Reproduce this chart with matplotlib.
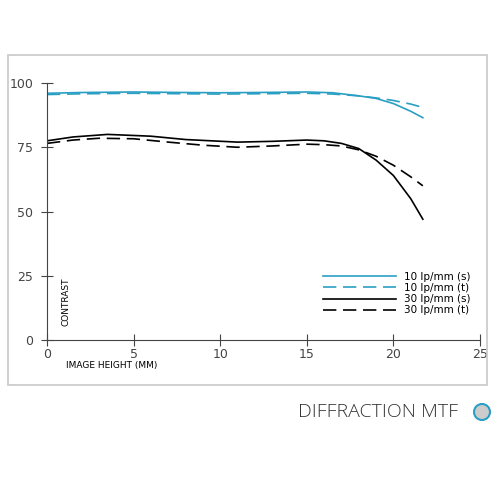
import matplotlib
matplotlib.use("Agg")
import matplotlib.pyplot as plt
from matplotlib.patches import Rectangle, Circle

x10s = [0, 2, 5, 8, 10, 12, 15, 16.5, 18, 19, 20, 21, 21.7]
y10s = [96, 96.3, 96.5, 96.3, 96.2, 96.3, 96.5, 96.2, 95, 94, 92, 89, 86.5]
x10t = [0, 2, 5, 8, 10, 12, 15, 16.5, 18, 19, 20, 21, 21.7]
y10t = [95.5, 95.8, 96, 95.8, 95.7, 95.8, 96, 95.7, 95, 94.2, 93.2, 91.8, 90.5]
x30s = [0, 1.5, 3.5, 6, 8, 11, 13, 15, 16, 17, 18, 19, 20, 21, 21.7]
y30s = [77.5, 79, 80, 79.3, 78, 77, 77.3, 77.8, 77.5, 76.5, 74.5, 70, 64, 55, 47]
x30t = [0, 1.5, 3, 5, 7, 9, 11, 13, 15, 16, 17, 18, 19, 20, 21, 21.7]
y30t = [76.5, 77.8, 78.5, 78.3, 77, 75.8, 75, 75.5, 76.2, 76, 75.5, 74, 71.5, 68, 63.5, 60]

blue = "#2a9fc4"
fig = plt.figure(figsize=(4.98, 4.98), dpi=100)
fig.patches.append(Rectangle((8/498, 1-385/498), 479/498, 330/498, transform=fig.transFigure,
                             fill=False, edgecolor="#c8c8c8", lw=1.2))
ax = fig.add_axes([47/498, 1-340/498, 433/498, 257/498])
ax.plot(x10s, y10s, color=blue, lw=1.2, label="10 lp/mm (s)")
ax.plot(x10t, y10t, color=blue, lw=1.2, ls=(0, (8, 4)), label="10 lp/mm (t)")
ax.plot(x30s, y30s, color="black", lw=1.2, label="30 lp/mm (s)")
ax.plot(x30t, y30t, color="black", lw=1.2, ls=(0, (8, 4)), label="30 lp/mm (t)")
ax.set_xlim(0, 25); ax.set_ylim(0, 100)
ax.set_xticks([0, 5, 10, 15, 20, 25]); ax.set_yticks([0, 25, 50, 75, 100])
for s in ["top", "right"]:
    ax.spines[s].set_visible(False)
for s in ["left", "bottom"]:
    ax.spines[s].set_color("#444444"); ax.spines[s].set_linewidth(0.8)
ax.tick_params(direction="inout", length=8, width=0.8, colors="#444444", labelsize=9, pad=2)
ax.tick_params(axis="y", pad=6)
ax.set_facecolor("none")
fig.text(66/498, 1-365/498, "IMAGE HEIGHT (MM)", fontsize=6.5, va="center", ha="left")
fig.text(66/498, 1-326/498, "CONTRAST", fontsize=6.5, rotation=90, va="bottom", ha="center")
leg = ax.legend(loc="lower right", bbox_to_anchor=(1.0, 0.06), frameon=False, fontsize=7.5,
                handlelength=7, labelspacing=0.1)
fig.text(458/498, 1-412/498, "DIFFRACTION MTF", fontsize=14, ha="right", va="center",
         color="#333333", fontweight="light", family="Open Sans")
fig.patches.append(Circle((482/498, 1-412/498), 8/498, transform=fig.transFigure,
                          facecolor="#cccccc", edgecolor=blue, lw=1.5))
fig.savefig("out.png", dpi=100)
